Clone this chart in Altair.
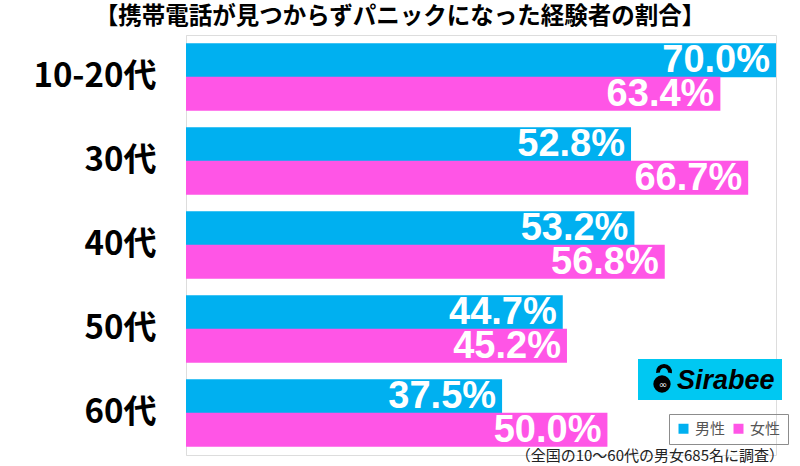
import altair as alt
import pandas as pd

ages = ["10-20代", "30代", "40代", "50代", "60代"]
male = [70.0, 52.8, 53.2, 44.7, 37.5]
female = [63.4, 66.7, 56.8, 45.2, 50.0]
sexes = ["男性", "女性"]
colors = ["#00B0F0", "#FF55E6"]

title_text = "【携帯電話が見つからずパニックになった経験者の割合】"
note_text = "（全国の10〜60代の男女685名に調査）"

rows = []
for a, m, f in zip(ages, male, female):
    rows.append({"age": a, "sex": sexes[0], "value": m, "label": f"{m:.1f}%"})
    rows.append({"age": a, "sex": sexes[1], "value": f, "label": f"{f:.1f}%"})
df = pd.DataFrame(rows)

W, H = 590, 420

y_enc = alt.Y("age:N", sort=ages, title=None,
              scale=alt.Scale(paddingInner=0.2, paddingOuter=0.1),
              axis=alt.Axis(labelFontSize=33, labelFont="Noto Sans CJK JP",
                            labelFontWeight="bold", labelColor="#000",
                            labelPadding=30, ticks=False, domainColor="#dddddd",
                            domainWidth=1, grid=False))
yoff = alt.YOffset("sex:N", sort=sexes, scale=alt.Scale(paddingInner=0, paddingOuter=0))
x_enc = alt.X("value:Q", scale=alt.Scale(domain=[0, 70], nice=False, zero=True), axis=None)

bars = alt.Chart(df).mark_bar(size=34).encode(
    x=x_enc, y=y_enc, yOffset=yoff,
    color=alt.Color("sex:N", sort=sexes,
                    scale=alt.Scale(domain=sexes, range=colors),
                    legend=alt.Legend(orient="none", legendX=483, legendY=379,
                                      direction="horizontal", title=None,
                                      strokeColor="#8c8c8c", padding=7,
                                      symbolType="square", symbolSize=100,
                                      symbolStrokeWidth=0,
                                      labelFontSize=15, labelColor="#555555",
                                      labelFont="Noto Sans CJK JP",
                                      labelOffset=4, columnPadding=5)),
)

labels = alt.Chart(df).mark_text(align="right", baseline="middle", dx=-6, dy=1,
                                 font="Liberation Sans", fontWeight="bold",
                                 fontSize=38, color="white").encode(
    x=x_enc, y=alt.Y("age:N", sort=ages), yOffset=yoff, text="label:N")

title = alt.Chart(pd.DataFrame({"t": [title_text]})).mark_text(
    font="Noto Sans CJK JP", fontWeight="bold", fontSize=23.5, color="#000",
    align="center", baseline="middle").encode(
    x=alt.value(400 - 186), y=alt.value(-18), text="t:N")

note = alt.Chart(pd.DataFrame({"t": [note_text]})).mark_text(
    font="Noto Sans CJK JP", fontSize=15, color="#222",
    align="right", baseline="middle").encode(
    x=alt.value(784 - 186), y=alt.value(456 - 35), text="t:N")

logo_bg = alt.Chart(pd.DataFrame({"a": [0]})).mark_rect(color="#00C8F2").encode(
    x=alt.value(638 - 186), x2=alt.value(782 - 186),
    y=alt.value(359 - 35), y2=alt.value(400 - 35))

logo_icon = alt.Chart(pd.DataFrame({"a": [0]})).mark_point(
    shape="circle", filled=True, color="#000", size=300, opacity=1).encode(
    x=alt.value(662 - 186), y=alt.value(384 - 35))

logo_inf = alt.Chart(pd.DataFrame({"t": ["∞"]})).mark_text(
    font="DejaVu Sans", fontSize=10, color="white", align="center",
    baseline="middle").encode(
    x=alt.value(663 - 186), y=alt.value(385 - 35), text="t:N")

logo_hook = alt.Chart(pd.DataFrame({"a": [0]})).mark_arc(
    color="#000", innerRadius=4, outerRadius=8, theta=4.6, theta2=8.0
).encode(x=alt.value(664 - 186), y=alt.value(372 - 35))

logo_text = alt.Chart(pd.DataFrame({"t": ["Sirabee"]})).mark_text(
    font="Liberation Sans", fontWeight="bold", fontStyle="italic",
    fontSize=27, color="#000", align="left", baseline="middle").encode(
    x=alt.value(677 - 186), y=alt.value(381 - 35), text="t:N")

chart = alt.layer(bars, labels, title, note, logo_bg, logo_icon, logo_hook,
                  logo_inf, logo_text).properties(
    width=W, height=H,
    autosize=alt.AutoSizeParams(type="none"),
    padding={"left": 186, "top": 35, "right": 24, "bottom": 11},
).configure_view(stroke=None).configure(background="white")

chart.save("out.html", embed_options={"renderer": "svg", "actions": False})
